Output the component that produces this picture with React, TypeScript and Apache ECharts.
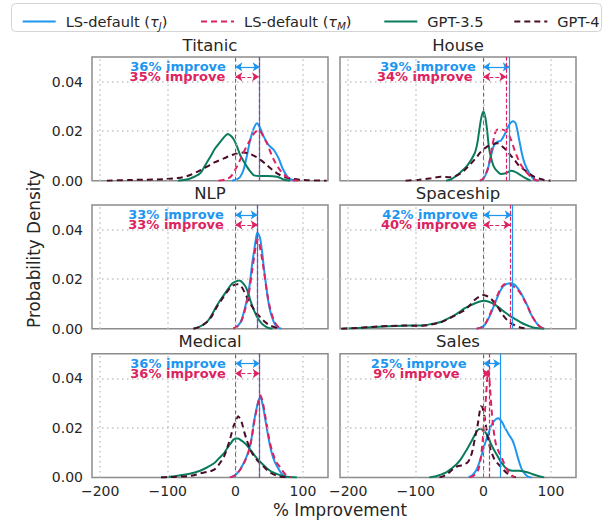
import React, { useEffect, useRef } from "react";
import * as echarts from "echarts";

type Pt = [number, number];

const PANELS = ["Titanic", "House", "NLP", "Spaceship", "Medical", "Sales"];
const SERIES_NAMES = ["LS-default (τJ)", "LS-default (τM)", "GPT-3.5", "GPT-4"];
const IMPROVE_J = [36, 39, 33, 42, 36, 25];
const IMPROVE_M = [35, 34, 33, 40, 36, 9];
const X_TICKS = [-200, -100, 0, 100];
const Y_TICKS = [0, 0.02, 0.04];

// ---- Titanic ----
const titanicJ: Pt[] = [[-5,0],[2,0.0005],[7,0.0015],[12,0.0043],[17,0.01],[22,0.0165],[27,0.021],[32,0.0232],[37,0.021],[42,0.0178],[49,0.0145],[57,0.0124],[64,0.009],[71,0.0043],[79,0.001],[88,0]];
const titanicM: Pt[] = [[-25,0],[-15,0.0005],[-7,0.0016],[0,0.0045],[7,0.0084],[15,0.013],[22,0.0165],[29,0.0195],[35,0.0205],[41,0.018],[47,0.015],[52,0.0115],[57,0.0084],[66,0.0043],[76,0.0016],[86,0.0002],[95,0]];
const titanic35: Pt[] = [[-85,0],[-70,0.0006],[-60,0.0017],[-52,0.003],[-45,0.006],[-37,0.0097],[-30,0.013],[-22,0.0158],[-16,0.0178],[-11,0.0189],[-6,0.018],[-2,0.0165],[3,0.0135],[7,0.0104],[12,0.008],[17,0.0057],[22,0.0038],[27,0.0023],[35,0.0019],[47,0.0019],[62,0.0016],[71,0.0005],[81,0]];
const titanic4: Pt[] = [[-190,0],[-155,0.0003],[-106,0.0006],[-85,0.0011],[-71,0.0019],[-55,0.0038],[-42,0.0057],[-30,0.0075],[-17,0.009],[-5,0.0104],[3,0.011],[12,0.0114],[22,0.0108],[30,0.0097],[37,0.0084],[45,0.0067],[52,0.005],[59,0.0035],[66,0.0023],[74,0.0014],[81,0.0009],[95,0.0004],[106,0.0002],[135,0]];

// ---- House ----
const houseJ: Pt[] = [[-5,0],[0,0.0008],[6,0.0043],[11,0.0097],[16,0.0145],[21,0.0158],[26,0.0162],[32,0.019],[38,0.0225],[44,0.024],[48,0.023],[53,0.0165],[57,0.011],[61,0.007],[68,0.003],[75,0.0005],[82,0]];
const houseM: Pt[] = [[-5,0],[0,0.001],[6,0.0043],[10,0.009],[14,0.0151],[19,0.0203],[26,0.0208],[33,0.0201],[37,0.019],[41,0.0165],[46,0.0125],[51,0.009],[56,0.0062],[61,0.0043],[70,0.0016],[78,0.0002],[85,0]];
const house35: Pt[] = [[-55,0],[-48,0.0005],[-40,0.002],[-33,0.0036],[-23,0.0064],[-13,0.011],[-9,0.015],[-6,0.0205],[-3,0.0255],[0,0.028],[3,0.0255],[5.5,0.0205],[8,0.014],[11,0.0097],[15,0.006],[19,0.0043],[26,0.0027],[33,0.003],[41,0.004],[51,0.003],[61,0.0012],[70,0]];
const house4: Pt[] = [[-115,0],[-95,0.0004],[-77,0.001],[-63,0.0016],[-48,0.0014],[-33,0.003],[-25,0.005],[-18,0.007],[-10,0.0095],[-3.5,0.0118],[4,0.0135],[11,0.0145],[21,0.0151],[31,0.0131],[38,0.011],[46,0.0084],[53,0.006],[61,0.0043],[68,0.0028],[75,0.0016],[90,0.0003],[100,0]];

// ---- NLP ----
const nlpJ: Pt[] = [[-3,0],[3,0.001],[8,0.0028],[12,0.0061],[16,0.0105],[20,0.0156],[25,0.0265],[28,0.032],[30.5,0.0365],[32.5,0.0388],[35,0.0378],[37,0.036],[40,0.03],[42,0.025],[47,0.0143],[50,0.009],[54,0.0048],[58,0.002],[62,0.0007],[68,0]];
const nlpM: Pt[] = [[-3,0],[3,0.001],[8,0.0026],[12,0.0054],[16,0.0095],[20,0.0143],[25,0.0238],[28,0.0295],[30.5,0.0345],[32,0.036],[34.5,0.0355],[37,0.032],[40,0.0275],[42,0.0238],[47,0.0143],[52,0.0075],[57,0.0034],[61,0.0015],[64,0.0007],[70,0]];
const nlp35: Pt[] = [[-62,0],[-54,0.0006],[-42,0.0027],[-35,0.0055],[-27,0.0095],[-20,0.0125],[-12,0.0156],[-5,0.0182],[0,0.019],[6,0.0195],[11,0.0185],[15,0.017],[19,0.0145],[22,0.0116],[27,0.0078],[32,0.0048],[37,0.0028],[42,0.0014],[49,0.0003],[55,0]];
const nlp4: Pt[] = [[-62,0],[-54,0.0006],[-42,0.0027],[-35,0.005],[-27,0.009],[-20,0.0118],[-12,0.015],[-5,0.0172],[3,0.018],[8,0.0173],[12,0.0156],[17,0.0128],[22,0.0102],[27,0.008],[32,0.0061],[38,0.0043],[44,0.0027],[50,0.0015],[57,0.0007],[66,0]];

// ---- Spaceship ----
const shipJ: Pt[] = [[-10,0],[-4,0.0004],[1.5,0.0014],[6,0.0033],[11,0.0061],[16,0.0095],[21,0.0129],[25,0.0153],[29,0.017],[35,0.0181],[41,0.0184],[46,0.0178],[51,0.0163],[56,0.0142],[61,0.0116],[66,0.0088],[70,0.0061],[75,0.0037],[80,0.0018],[85,0.0006],[90,0]];
const shipM: Pt[] = [[-10,0],[-4,0.0004],[1.5,0.0015],[6,0.0036],[11,0.0066],[16,0.0102],[21,0.0136],[26,0.0165],[31,0.018],[36,0.0181],[41,0.0177],[46,0.0168],[51,0.0156],[56,0.0138],[61,0.0113],[66,0.0086],[70,0.0061],[75,0.0037],[80,0.0018],[85,0.0006],[90,0]];
const ship35: Pt[] = [[-210,0],[-185,0.0003],[-161,0.0007],[-140,0.001],[-117,0.0012],[-100,0.0013],[-87,0.0014],[-75,0.002],[-63,0.0027],[-53,0.004],[-43,0.0054],[-35,0.0068],[-28,0.0082],[-20,0.0093],[-13,0.0102],[-5,0.011],[1.5,0.0113],[8,0.0109],[16,0.0099],[23,0.0085],[31,0.0068],[38,0.0054],[46,0.0041],[54,0.0028],[61,0.0018],[68,0.001],[75,0.0004],[90,0]];
const ship4: Pt[] = [[-210,0],[-185,0.0003],[-161,0.0008],[-140,0.0011],[-117,0.0013],[-100,0.0012],[-87,0.0013],[-75,0.0018],[-63,0.0026],[-53,0.0038],[-43,0.0052],[-35,0.0064],[-28,0.0075],[-20,0.0095],[-13,0.0116],[-6,0.013],[-1,0.0136],[5,0.0132],[11,0.0122],[16,0.0106],[21,0.0088],[26,0.0068],[31,0.0048],[37,0.003],[43,0.0018],[56,0.0004],[65,0]];

// ---- Medical ----
const medJ: Pt[] = [[-8,0],[-2,0.0006],[2.5,0.0016],[7,0.0032],[12,0.0056],[16,0.008],[20,0.011],[24,0.016],[27,0.0217],[30,0.026],[33,0.0298],[37,0.0325],[41,0.0285],[44,0.0238],[47,0.019],[50,0.0145],[54,0.0097],[58,0.0065],[62,0.0043],[69,0.0013],[76,0]];
const medM: Pt[] = [[-8,0],[-2,0.0006],[2.5,0.0016],[7,0.003],[12,0.0054],[16,0.0078],[20,0.0108],[24,0.0155],[27,0.021],[30,0.0255],[33,0.0295],[37,0.0332],[41,0.0298],[44,0.0252],[47,0.0204],[50,0.0155],[54,0.011],[58,0.0078],[62,0.0056],[66,0.0042],[69,0.003],[73,0.0015],[76,0.0005],[82,0]];
const med35: Pt[] = [[-110,0],[-90,0.0005],[-71,0.0013],[-60,0.002],[-52,0.0027],[-42,0.004],[-32,0.0056],[-25,0.0075],[-17,0.0097],[-12,0.0118],[-7,0.0137],[-3,0.0152],[0,0.0157],[4,0.0157],[7,0.0153],[12,0.0143],[17,0.013],[24,0.0105],[32,0.0077],[40,0.0054],[47,0.0036],[54,0.0022],[62,0.0013],[70,0.0006],[76,0.0003],[91,0]];
const med4: Pt[] = [[-110,0],[-90,0.0002],[-71,0.0005],[-60,0.001],[-52,0.0016],[-42,0.0022],[-32,0.003],[-25,0.005],[-17,0.0083],[-12,0.012],[-7,0.0164],[-3,0.0205],[0,0.0224],[4,0.0247],[7,0.0237],[10,0.0217],[13,0.0185],[17,0.015],[21,0.012],[25,0.0097],[32,0.007],[42,0.0043],[52,0.0019],[60,0.0008],[66,0.0003],[76,0]];

// ---- Sales ----
const salesJ: Pt[] = [[-22,0],[-16,0.001],[-11,0.0027],[-7,0.0052],[-3.5,0.0082],[0,0.0115],[4,0.015],[8,0.0182],[11,0.0205],[15,0.0225],[19,0.0236],[22,0.0239],[24,0.0236],[28,0.0222],[31,0.0205],[35,0.0186],[38,0.0171],[43,0.015],[46,0.0128],[48,0.011],[51,0.008],[53,0.0062],[56,0.0038],[58,0.0027],[62,0.0012],[66,0.0003],[72,0]];
const salesM: Pt[] = [[-20,0],[-14,0.0008],[-8,0.0027],[-4,0.0075],[-1,0.015],[1.5,0.024],[4,0.0329],[5.5,0.0395],[7,0.043],[8.5,0.041],[10,0.0356],[12,0.028],[14,0.0219],[16.5,0.0165],[19,0.013],[24,0.0096],[29,0.0068],[33,0.0041],[37,0.0022],[41,0.0011],[46,0]];
const sales35: Pt[] = [[-80,0],[-70,0.0005],[-63,0.0011],[-55,0.002],[-48,0.0034],[-40,0.0052],[-33,0.0075],[-25,0.011],[-18,0.0144],[-12,0.0175],[-8,0.0192],[-4.5,0.0197],[0,0.019],[4,0.0178],[8,0.0158],[11,0.0137],[15,0.0115],[19,0.0096],[23,0.0076],[26,0.0062],[30,0.0048],[33,0.0038],[38,0.003],[43,0.0027],[53,0.0027],[60,0.0024],[66,0.002],[73,0.0013],[80,0.0007],[90,0]];
const sales4: Pt[] = [[-65,0],[-58,0.0006],[-53,0.0014],[-48,0.0026],[-43,0.0038],[-38,0.0045],[-33,0.0048],[-28,0.0053],[-23,0.0062],[-19,0.0082],[-16,0.011],[-12,0.0165],[-8,0.0219],[-5.5,0.0265],[-3.5,0.0288],[-1,0.028],[1.5,0.0247],[4,0.0205],[6.4,0.0164],[9,0.013],[11,0.011],[16,0.0075],[20,0.006],[24,0.0048],[31,0.0027],[36,0.0015],[41,0.0007],[48,0]];

const CURVES: Pt[][][] = [
  [titanicJ, titanicM, titanic35, titanic4],
  [houseJ, houseM, house35, house4],
  [nlpJ, nlpM, nlp35, nlp4],
  [shipJ, shipM, ship35, ship4],
  [medJ, medM, med35, med4],
  [salesJ, salesM, sales35, sales4],
];

// ---- layout / style ----
const FONT = "DejaVu Sans";
const TXT = "#262626";
const COLORS = ["#1E96F0", "#DC2360", "#0A7B5C", "#4A0C26"];
const DASHED = [false, true, false, true];
const COL_LEFT = [92, 340];
const ROW_TOP = [57, 205, 353.7];
const GRID_W = 236;
const GRID_H = 123.7;
const X_MIN = -212;
const X_MAX = 137;
const Y_MAX = 0.05;
const ARROW_Y_J = 0.046;
const ARROW_Y_M = 0.042;
// right edge of annotation text, in data units relative to the improvement value
const TEXT_SHIFT_J = [-50, -50, -50, -50, -50, -50];
const TEXT_SHIFT_M = [-50, -50, -50, -50, -50, -44];
const LEGEND_LEFT = [16.7, 195, 378.3, 508.3];

const fmtX = (v: number) => (v < 0 ? "\u2212" + Math.abs(v) : String(v));

function buildOption(): any {
  const grid: any[] = [];
  const xAxis: any[] = [];
  const yAxis: any[] = [];
  const series: any[] = [];
  const graphic: any[] = [];

  PANELS.forEach((title, i) => {
    const col = i % 2;
    const row = Math.floor(i / 2);
    grid.push({
      left: COL_LEFT[col],
      top: ROW_TOP[row],
      width: GRID_W,
      height: GRID_H,
      show: true,
      borderColor: "#8c8c8c",
      borderWidth: 1.5,
      backgroundColor: "transparent",
    });
    xAxis.push({
      type: "value",
      gridIndex: i,
      min: X_MIN,
      max: X_MAX,
      splitLine: { show: false },
      axisLine: { show: false },
      axisTick: { show: false },
      axisLabel: {
        show: row === 2,
        customValues: X_TICKS,
        formatter: fmtX,
        fontSize: 14,
        color: TXT,
        fontFamily: FONT,
        margin: 7,
      },
    });
    yAxis.push({
      type: "value",
      gridIndex: i,
      min: 0,
      max: Y_MAX,
      interval: 0.02,
      splitLine: { show: false },
      axisLine: { show: false },
      axisTick: { show: false },
      axisLabel: {
        show: col === 0,
        showMaxLabel: false,
        formatter: (v: number) => v.toFixed(2),
        fontSize: 14,
        color: TXT,
        fontFamily: FONT,
        margin: 9,
      },
    });

    // grid lines + zero line
    series.push({
      type: "line",
      xAxisIndex: i,
      yAxisIndex: i,
      data: [],
      silent: true,
      z: 1,
      markLine: {
        silent: true,
        symbol: "none",
        animation: false,
        label: { show: false },
        lineStyle: { type: [1.5, 3.5], color: "#c4c4c4", width: 1.5 },
        data: [
          ...X_TICKS.map((v) => ({ xAxis: v })),
          ...Y_TICKS.filter((v) => v > 0).map((v) => ({ yAxis: v })),
          { xAxis: 0, lineStyle: { type: [4, 3], color: "#6a6a6a", width: 1, opacity: 1 } },
        ],
      },
    });

    // density curves
    SERIES_NAMES.forEach((name, k) => {
      series.push({
        type: "line",
        name,
        xAxisIndex: i,
        yAxisIndex: i,
        data: CURVES[i][k],
        smooth: 0.3,
        symbol: "none",
        showSymbol: false,
        silent: true,
        z: 3 + (k === 1 ? 1 : 0),
        lineStyle: {
          color: COLORS[k],
          width: 2,
          type: DASHED[k] ? [6, 4] : "solid",
        },
        itemStyle: { color: COLORS[k] },
      });
    });

    // annotations
    const ann = [
      { imp: IMPROVE_J[i], y: ARROW_Y_J, color: COLORS[0], dashed: false, shift: TEXT_SHIFT_J[i] },
      { imp: IMPROVE_M[i], y: ARROW_Y_M, color: COLORS[1], dashed: true, shift: TEXT_SHIFT_M[i] },
    ];
    ann.forEach((a) => {
      series.push({
        type: "line",
        xAxisIndex: i,
        yAxisIndex: i,
        data: [],
        silent: true,
        z: 6,
        markLine: {
          silent: true,
          symbol: "none",
          animation: false,
          label: { show: false },
          lineStyle: { color: a.color, width: 1.2, type: a.dashed ? [4, 2] : "solid", opacity: 1 },
          data: [
            { xAxis: a.imp },
            [
              { coord: [0, a.y], symbol: "arrow", symbolSize: 7 },
              { coord: [a.imp, a.y], symbol: "arrow", symbolSize: 7 },
            ],
          ],
        },
        markPoint: {
          silent: true,
          animation: false,
          symbol: "circle",
          symbolSize: 0,
          itemStyle: { color: "transparent" },
          label: {
            show: true,
            position: "left",
            distance: 0,
            formatter: `${a.imp}% improve`,
            color: a.color,
            fontWeight: "bold",
            fontSize: 13,
            fontFamily: FONT,
          },
          data: [{ coord: [a.imp + a.shift, a.y] }],
        },
      });
    });

    graphic.push({
      type: "text",
      x: COL_LEFT[col] + GRID_W / 2,
      y: ROW_TOP[row] - 12,
      style: {
        text: title,
        fill: TXT,
        font: `16.5px "${FONT}"`,
        align: "center",
        verticalAlign: "middle",
      },
    });
  });

  graphic.unshift({
    type: "rect",
    shape: { x: 11.5, y: 3.5, width: 590, height: 28, r: 4 },
    style: { fill: "#ffffff", stroke: "#d4d4d4", lineWidth: 1 },
    z: -1,
  });
  graphic.push({
    type: "text",
    x: 34,
    y: 249,
    rotation: Math.PI / 2,
    style: {
      text: "Probability Density",
      fill: TXT,
      font: `16.8px "${FONT}"`,
      align: "center",
      verticalAlign: "middle",
    },
  });
  graphic.push({
    type: "text",
    x: 340,
    y: 510,
    style: {
      text: "% Improvement",
      fill: TXT,
      font: `16.8px "${FONT}"`,
      align: "center",
      verticalAlign: "middle",
    },
  });

  const rich = {
    a: { fontSize: 14.6, color: TXT, fontFamily: FONT, padding: [0, 0, 0, 5] },
    t: { fontSize: 14.6, color: TXT, fontFamily: FONT },
    g: { fontSize: 14.6, color: TXT, fontFamily: FONT, fontStyle: "italic" },
    s: { fontSize: 10, color: TXT, fontFamily: FONT, fontStyle: "italic", verticalAlign: "bottom", lineHeight: 20 },
  };
  const legend = SERIES_NAMES.map((name, k) => ({
    data: [name],
    left: LEGEND_LEFT[k],
    top: 9,
    itemWidth: 33,
    itemHeight: 14,
    selectedMode: false,
    itemStyle: { opacity: 0 },
    lineStyle: { width: 2, opacity: 1 },
    formatter: (n: string) => {
      if (n.indexOf("τ") >= 0) {
        const sub = n.indexOf("τJ") >= 0 ? "J" : "M";
        return `{a|LS-default (}{g|τ}{s|${sub}}{t|)}`;
      }
      return `{a|${n}}`;
    },
    textStyle: { rich, color: TXT, fontFamily: FONT, fontSize: 14.6 },
  }));

  return {
    animation: false,
    backgroundColor: "#ffffff",
    textStyle: { fontFamily: FONT },
    grid,
    xAxis,
    yAxis,
    series,
    legend,
    graphic,
  };
}

export default function App() {
  const ref = useRef<HTMLDivElement>(null);
  useEffect(() => {
    if (!ref.current) return;
    const chart = echarts.init(ref.current, undefined, { renderer: "svg" });
    chart.setOption(buildOption());
    return () => chart.dispose();
  }, []);
  return (
    <div
      ref={ref}
      style={{ width: 610, height: 523, position: "absolute", left: 0, top: 0 }}
    />
  );
}
